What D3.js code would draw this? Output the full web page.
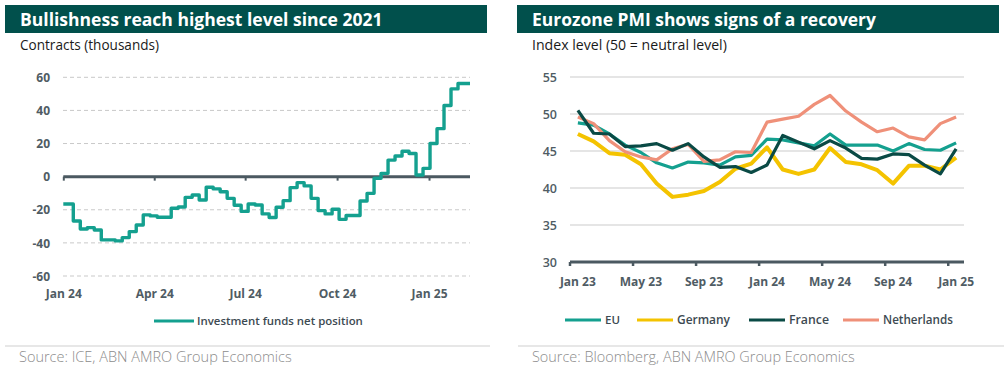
<!DOCTYPE html>
<html><head><meta charset="utf-8">
<script src="https://cdn.jsdelivr.net/npm/d3@7"></script>
<style>
body{margin:0;background:#fff}
svg{display:block}
text{font-family:"Open Sans",Lato,sans-serif}
</style>
</head><body>
<svg id="c" width="1004" height="367"></svg>
<script>
// ---------- DATA: left chart ----------
const fundTitle = "Bullishness reach highest level since 2021";
const fundSubtitle = "Contracts (thousands)";
const fundSource = "Source: ICE, ABN AMRO Group Economics";
const fundSeriesName = "Investment funds net position";
const fundStartDate = "2024-01-01";
const fundFirstWeek = "2024-01-11";
const fundEndDate = "2025-02-11";
const fundValues = [-16.5, -26.8, -31.6, -30.8, -32.2, -38.2, -38.2, -38.8, -36.8, -33.2,
  -29.2, -23.1, -23.7, -24.5, -24.5, -19.1, -18.3, -12.5, -11.1, -14.1,
  -6.4, -7.4, -9.1, -13.1, -17.3, -21, -16.5, -17.1, -22.5, -24.7,
  -18.5, -14.5, -6.6, -3.6, -5.6, -13.1, -20.5, -22.5, -19.7, -25.8,
  -23.5, -23.5, -14.7, -10.1, -1, 2, 10, 12.5, 15.3, 14,
  1, 5, 20, 29, 43, 53, 56.3, 56.3];
const fundTickDates = ["2024-01-01", "2024-04-01", "2024-07-01", "2024-10-01", "2025-01-01"];
const fundTickLabels = ["Jan 24", "Apr 24", "Jul 24", "Oct 24", "Jan 25"];
const fundYTicks = [-60, -40, -20, 0, 20, 40, 60];

// ---------- DATA: right chart ----------
const pmiTitle = "Eurozone PMI shows signs of a recovery";
const pmiSubtitle = "Index level (50 = neutral level)";
const pmiSource = "Source: Bloomberg, ABN AMRO Group Economics";
const pmiMonths = ["2023-01","2023-02","2023-03","2023-04","2023-05","2023-06","2023-07","2023-08","2023-09","2023-10","2023-11","2023-12",
  "2024-01","2024-02","2024-03","2024-04","2024-05","2024-06","2024-07","2024-08","2024-09","2024-10","2024-11","2024-12","2025-01"];
const pmiEU = [48.8, 48.5, 47.3, 45.8, 44.8, 43.4, 42.7, 43.5, 43.4, 43.1, 44.2, 44.4,
  46.6, 46.5, 46.1, 45.7, 47.3, 45.8, 45.8, 45.8, 45.0, 46.0, 45.2, 45.1, 46.1];
const pmiGermany = [47.3, 46.3, 44.7, 44.5, 43.2, 40.6, 38.8, 39.1, 39.6, 40.8, 42.6, 43.3,
  45.5, 42.5, 41.9, 42.5, 45.4, 43.5, 43.2, 42.4, 40.6, 43.0, 43.0, 42.5, 44.1];
const pmiFrance = [50.5, 47.4, 47.3, 45.6, 45.7, 46.0, 45.1, 46.0, 44.2, 42.8, 42.9, 42.1,
  43.1, 47.1, 46.2, 45.3, 46.4, 45.4, 44.0, 43.9, 44.6, 44.5, 43.1, 41.9, 45.3];
const pmiNetherlands = [49.6, 48.7, 46.4, 44.9, 44.2, 43.8, 45.3, 45.9, 43.6, 43.8, 44.9, 44.8,
  48.9, 49.3, 49.7, 51.3, 52.5, 50.4, 48.9, 47.6, 48.1, 46.9, 46.5, 48.7, 49.6];
const pmiSeriesNames = ["EU", "Germany", "France", "Netherlands"];
const pmiTickMonths = ["2023-01","2023-05","2023-09","2024-01","2024-05","2024-09","2025-01"];
const pmiTickLabels = ["Jan 23","May 23","Sep 23","Jan 24","May 24","Sep 24","Jan 25"];
const pmiYTicks = [30, 35, 40, 45, 50, 55];

// ---------- STYLE ----------
const BANNER = "#01504c";
const AXIS = "#4b5961";
const LABEL = "#4f5c64";
const TEAL = "#14a08f";
const YELLOW = "#f4c300";
const DARK = "#0a4a45";
const SALMON = "#ef9079";
const pmiColors = [TEAL, YELLOW, DARK, SALMON];

const svg = d3.select("#c");
const parse = d3.timeParse("%Y-%m-%d");

function fit(sel, target) {
  const w = sel.node().getComputedTextLength();
  const fs = parseFloat(sel.attr("font-size"));
  if (w > 0) sel.attr("font-size", (fs * target / w).toFixed(2));
  return sel;
}

function header(x0, x1, title, subtitle, titleW, subW) {
  svg.append("rect").attr("x", x0).attr("y", 5).attr("width", x1 - x0).attr("height", 28).attr("fill", BANNER);
  fit(svg.append("text").attr("x", x0 + 15).attr("y", 25.5).attr("fill", "#fff")
    .attr("font-size", 17).attr("font-weight", 700).text(title), titleW);
  fit(svg.append("text").attr("x", x0 + 15).attr("y", 50).attr("fill", "#1a1a1a")
    .attr("font-size", 13).text(subtitle), subW);
}
function footer(x0, x1, source, w) {
  svg.append("line").attr("x1", x0).attr("x2", x1).attr("y1", 346).attr("y2", 346)
    .attr("stroke", "#cfcfcf").attr("stroke-width", 1);
  fit(svg.append("text").attr("x", x0 + 14).attr("y", 362).attr("fill", "#8c8c8c")
    .attr("font-size", 13).attr("font-weight", 300).text(source), w);
}
function styleTicks(sel) {
  sel.selectAll("text").attr("fill", LABEL).attr("font-size", 12).attr("font-weight", 700)
    .attr("font-family", "'Open Sans'").attr("dy", "0.35em");
}

// ================= LEFT CHART =================
header(5, 487, fundTitle, fundSubtitle, 363, 139);
footer(5, 490, fundSource, 273);

const fStart = parse(fundStartDate), fWeek = parse(fundFirstWeek), fEnd = parse(fundEndDate);
const fundData = fundValues.map((v, i) => ({
  date: i === 0 ? fStart : d3.timeDay.offset(fWeek, 7 * (i - 1)), v
}));
fundData.push({date: fEnd, v: fundValues[fundValues.length - 1]});

const xL = d3.scaleTime().domain([fStart, fEnd]).range([63.3, 470]);
const yL = d3.scaleLinear().domain([-60, 60]).range([276, 77.3]);

const gL = svg.append("g");
gL.append("g").selectAll("line").data(fundYTicks.filter(d => d !== 0)).join("line")
  .attr("x1", 63).attr("x2", 470).attr("y1", d => yL(d)).attr("y2", d => yL(d))
  .attr("stroke", "#c9c9c9").attr("stroke-width", 1).attr("stroke-dasharray", "4,3");
const yAxisL = d3.axisLeft(yL).tickValues(fundYTicks).tickFormat(d => String(d)).tickSize(0).tickPadding(0);
const yg = gL.append("g").attr("transform", "translate(50,0)").call(yAxisL);
yg.select(".domain").remove();
styleTicks(yg);

const xAxisL = d3.axisBottom(xL).tickValues(fundTickDates.map(parse))
  .tickFormat((d, i) => fundTickLabels[i]).tickSize(0).tickPadding(0);
const xg = gL.append("g").attr("transform", "translate(0,294)").call(xAxisL);
xg.select(".domain").remove();
styleTicks(xg);

const zeroAxis = d3.axisBottom(xL).tickValues(fundTickDates.map(parse)).tickSize(4).tickFormat("");
const zg = gL.append("g").attr("transform", `translate(0,${yL(0)})`).call(zeroAxis);
zg.select(".domain").attr("d", `M${xL.range()[0]},0H${xL.range()[1]}`).attr("stroke", AXIS).attr("stroke-width", 3);
zg.selectAll(".tick line").attr("stroke", AXIS).attr("stroke-width", 2);

gL.append("path").datum(fundData)
  .attr("d", d3.line().curve(d3.curveStepAfter).x(d => xL(d.date)).y(d => yL(d.v)))
  .attr("fill", "none").attr("stroke", TEAL).attr("stroke-width", 3.4).attr("stroke-linejoin", "round");

const legL = svg.append("g").attr("transform", "translate(154,321)");
legL.append("line").attr("x1", 0).attr("x2", 40).attr("stroke", TEAL).attr("stroke-width", 3);
fit(legL.append("text").attr("x", 43).attr("dy", "0.35em").attr("fill", "#3d4a52")
  .attr("font-size", 11).attr("font-weight", 600).text(fundSeriesName), 166);

// ================= RIGHT CHART =================
header(517, 999, pmiTitle, pmiSubtitle, 344, 195);
footer(518, 1004, pmiSource, 323);

const xR = d3.scaleBand().domain(pmiMonths).range([570, 964]);
const yR = d3.scaleLinear().domain([30, 55]).range([262, 77]);
const gR = svg.append("g");

gR.append("g").selectAll("line").data(pmiYTicks.filter(d => d !== 30)).join("line")
  .attr("x1", 570).attr("x2", 964).attr("y1", d => yR(d)).attr("y2", d => yR(d))
  .attr("stroke", "#dcdcdc").attr("stroke-width", 1.3);
const yAxisR = d3.axisLeft(yR).tickValues(pmiYTicks).tickSize(0).tickPadding(0);
const ygR = gR.append("g").attr("transform", "translate(557,0)").call(yAxisR);
ygR.select(".domain").remove();
styleTicks(ygR);
ygR.selectAll("text").attr("font-weight", 600).attr("font-size", 12.5);

const axisR = gR.append("g").attr("transform", `translate(0,${yR(30)})`);
axisR.append("line").attr("x1", 570).attr("x2", 964).attr("stroke", AXIS).attr("stroke-width", 3);
axisR.selectAll("line.t").data(pmiTickMonths).join("line").attr("class", "t")
  .attr("x1", d => xR(d)).attr("x2", d => xR(d)).attr("y1", 0).attr("y2", 4)
  .attr("stroke", AXIS).attr("stroke-width", 2.5);
axisR.selectAll("text").data(pmiTickMonths).join("text")
  .attr("x", d => xR(d) + xR.bandwidth() / 2).attr("y", 20).attr("dy", "0.35em")
  .attr("text-anchor", "middle").attr("fill", LABEL).attr("font-size", 12).attr("font-weight", 700)
  .text((d, i) => pmiTickLabels[i]);

const pmiSeries = [pmiEU, pmiGermany, pmiFrance, pmiNetherlands];
const drawOrder = [1, 0, 3, 2];
const lineR = d3.line().x((d, i) => xR(pmiMonths[i]) + xR.bandwidth() / 2).y(d => yR(d));
drawOrder.forEach(k => {
  gR.append("path").datum(pmiSeries[k]).attr("d", lineR)
    .attr("fill", "none").attr("stroke", pmiColors[k])
    .attr("stroke-width", k === 1 ? 4 : 3.2).attr("stroke-linejoin", "round");
});

const legX = [565, 637, 749, 843];
const legW = [15, 53, 40, 70];
pmiSeriesNames.forEach((n, i) => {
  const g = svg.append("g").attr("transform", `translate(${legX[i]},320)`);
  g.append("line").attr("x1", 0).attr("x2", 36).attr("stroke", pmiColors[i]).attr("stroke-width", 3);
  fit(g.append("text").attr("x", 40).attr("dy", "0.35em").attr("fill", "#3d4a52")
    .attr("font-size", 11).attr("font-weight", 600).text(n), legW[i]);
});
</script>
</body></html>
